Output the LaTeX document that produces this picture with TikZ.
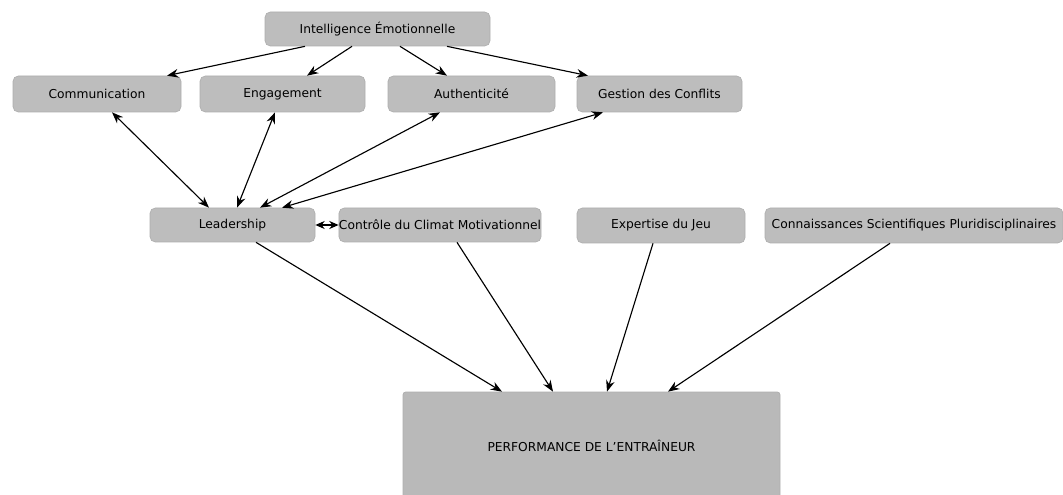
\documentclass[tikz,border=0pt]{standalone}
\usepackage{fontspec}
\setmainfont{DejaVu Sans}
\usetikzlibrary{calc,arrows.meta}
\definecolor{boxgray}{RGB}{189,189,189}
\definecolor{boxedge}{RGB}{174,174,174}
\definecolor{perfgray}{RGB}{185,185,185}
\tikzset{
  box/.style={fill=boxgray, draw=boxedge, line width=0.5pt, rounded corners=4pt,
    inner sep=0pt, minimum height=25.5pt, font=\fontsize{9.2}{11}\selectfont},
  link/.style={line width=0.85pt, -{Stealth[length=8.5pt,width=6.5pt]}},
  both/.style={line width=0.85pt, {Stealth[length=8.5pt,width=6.5pt]}-{Stealth[length=8.5pt,width=6.5pt]}},
  shortboth/.style={line width=0.85pt, {Stealth[length=7pt,width=6pt]}-{Stealth[length=7pt,width=6pt]}}
}
\begin{document}
\begin{tikzpicture}[x=0.75pt, y=-0.75pt]
\useasboundingbox (0,0) rectangle (1063,495);

% top level
\node[box, minimum width=168.75pt] (ie) at (377.5,29) {Intelligence Émotionnelle};

% second row
\node[box, minimum width=126pt, minimum height=27pt] (com) at (97,94) {Communication};
\node[box, minimum width=123.75pt, minimum height=27pt] (eng) at (282.5,94) {Engagement};
\node[box, minimum width=125.25pt, minimum height=27pt] (aut) at (471.5,94) {Authenticité};
\node[box, minimum width=123.75pt, minimum height=27pt] (ges) at (659.5,94) {Gestion des Conflits};

% third row
\node[box, minimum width=123.75pt] (lea) at (232.5,225) {Leadership};
\node[box, minimum width=150pt] (ctl) at (440,225) {Contrôle du Climat Motivationnel};
\node[box, minimum width=126pt, minimum height=26.25pt] (exp) at (661,225.5) {Expertise du Jeu};
\node[box, minimum width=223.5pt, minimum height=26.25pt] (con) at (914,225.5) {Connaissances Scientifiques Pluridisciplinaires};

% outcome
\node[box, fill=perfgray, rounded corners=2pt, minimum width=282.75pt, minimum height=81pt] (per) at (591.5,446) {PERFORMANCE DE L'ENTRAÎNEUR};

% emotional intelligence feeds the four competences
\draw[link] ($(ie.south)+(-72.5,0)$) -- ($(com.north)+(70,0)$);
\draw[link] ($(ie.south)+(-25.5,0)$) -- ($(eng.north)+(24.5,0)$);
\draw[link] ($(ie.south)+(22.5,0)$) -- ($(aut.north)+(-24.5,0)$);
\draw[link] ($(ie.south)+(69.5,0)$) -- ($(ges.north)+(-71.5,0)$);

% competences and leadership
\draw[both] ($(lea.north)+(-23.5,0)$) -- ($(com.south)+(15,0)$);
\draw[both] ($(lea.north)+(4.5,0)$) -- ($(eng.south)+(-7.5,0)$);
\draw[both] ($(lea.north)+(27.5,0)$) -- ($(aut.south)+(-31.5,0)$);
\draw[both] ($(lea.north)+(49.5,0)$) -- ($(ges.south)+(-56.5,0)$);
\draw[shortboth] (lea.east) -- (ctl.west);

% factors of coaching performance
\draw[link] ($(lea.south)+(23.5,0)$) -- ($(per.north)+(-89.5,0)$);
\draw[link] ($(ctl.south)+(17,0)$) -- ($(per.north)+(-38.5,0)$);
\draw[link] ($(exp.south)+(-8,0)$) -- ($(per.north)+(15.5,0)$);
\draw[link] ($(con.south)+(-24,0)$) -- ($(per.north)+(76.5,0)$);
\end{tikzpicture}
\end{document}
